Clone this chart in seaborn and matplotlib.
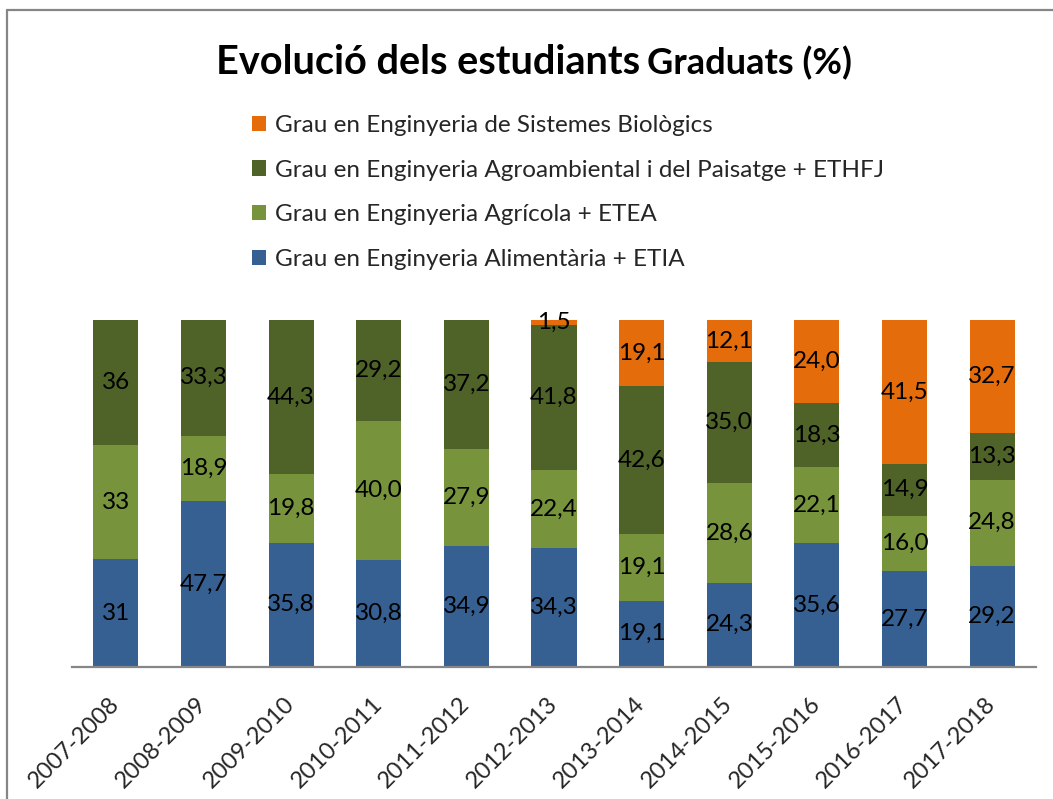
import numpy as np
import pandas as pd
import matplotlib
matplotlib.use("Agg")
import matplotlib.pyplot as plt
import seaborn as sns
from matplotlib.patches import Patch
from matplotlib.lines import Line2D

years = ["2007-2008", "2008-2009", "2009-2010", "2010-2011", "2011-2012", "2012-2013",
         "2013-2014", "2014-2015", "2015-2016", "2016-2017", "2017-2018"]
alimentaria = [31, 47.7, 35.8, 30.8, 34.9, 34.3, 19.1, 24.3, 35.6, 27.7, 29.2]
agricola = [33, 18.9, 19.8, 40.0, 27.9, 22.4, 19.1, 28.6, 22.1, 16.0, 24.8]
agroambiental = [36, 33.3, 44.3, 29.2, 37.2, 41.8, 42.6, 35.0, 18.3, 14.9, 13.3]
biologics = [None, None, None, None, None, 1.5, 19.1, 12.1, 24.0, 41.5, 32.7]

series_names = ["Grau en Enginyeria Alimentària + ETIA",
                "Grau en Enginyeria Agrícola + ETEA",
                "Grau en Enginyeria Agroambiental i del Paisatge + ETHFJ",
                "Grau en Enginyeria de Sistemes Biològics"]
colors = ["#376092", "#77933C", "#4F6228", "#E46C0A"]

title_main = "Evolució dels estudiants"
title_sub = "Graduats (%)"

FONT = ["Lato", "DejaVu Sans"]
sns.set_theme(style="white")
plt.rcParams["font.family"] = FONT

raw = [alimentaria, agricola, agroambiental, biologics]
vals = np.array([[0 if v is None else v for v in s] for s in raw], dtype=float)
totals = vals.sum(axis=0)
pct = vals / totals * 100
cum = np.cumsum(pct, axis=0)

W, H = 1053, 799
fig = plt.figure(figsize=(W / 100, H / 100), dpi=100)
ax = fig.add_axes([72 / W, (H - 667) / H, (1036 - 72) / W, (667 - 320) / H])

# draw from top series down (overlay cumulative heights)
for i in range(3, -1, -1):
    df = pd.DataFrame({"year": years, "value": cum[i]})
    sns.barplot(data=df, x="year", y="value", color=colors[i], width=0.514,
                saturation=1, ax=ax, linewidth=0, edgecolor="none")

def fmt(v):
    if isinstance(v, int):
        return str(v)
    return f"{v:.1f}".replace(".", ",")

for i in range(4):
    for j, v in enumerate(raw[i]):
        if v is None:
            continue
        bottom = cum[i][j] - pct[i][j]
        ax.text(j, bottom + pct[i][j] / 2, fmt(v), ha="center", va="center",
                fontsize=17.5, color="black", family=FONT)

ax.set_xlim(-0.5, 10.5)
ax.set_ylim(0, 100)
ax.set_xlabel("")
ax.set_ylabel("")
ax.set_yticks([])
for s in ["top", "right", "left"]:
    ax.spines[s].set_visible(False)
ax.spines["bottom"].set_color("#868686")
ax.spines["bottom"].set_linewidth(1.6)
ax.tick_params(axis="x", length=0, pad=24, labelsize=17)
for lab in ax.get_xticklabels():
    lab.set_rotation(45)
    lab.set_ha("right")
    lab.set_va("center")
    lab.set_rotation_mode("anchor")

# legend (reverse order)
handles = [Patch(facecolor=colors[i], edgecolor="none") for i in range(3, -1, -1)]
labels = [series_names[i] for i in range(3, -1, -1)]
fig.legend(handles, labels, loc="upper left", bbox_to_anchor=(252 / W, 1 - 115 / H),
           frameon=False, fontsize=17.5, handlelength=0.58, handleheight=0.58,
           handletextpad=0.36, labelspacing=0.97, borderpad=0, borderaxespad=0)

# title
split_x = 643 / W
fig.text(split_x - 3 / W, 1 - 74 / H, title_main, ha="right", va="baseline",
         fontsize=28.5, fontweight="bold", color="black", family=FONT)
fig.text(split_x + 4 / W, 1 - 74 / H, title_sub, ha="left", va="baseline",
         fontsize=26, fontweight="bold", color="black", family=FONT)

# chart border (left and top)
fig.add_artist(Line2D([7 / W, 7 / W], [0, 1 - 10 / H], transform=fig.transFigure,
                      color="#868686", linewidth=1.6))
fig.add_artist(Line2D([7 / W, 1], [1 - 10 / H, 1 - 10 / H], transform=fig.transFigure,
                      color="#868686", linewidth=1.6))

fig.savefig("out.png", dpi=100)
